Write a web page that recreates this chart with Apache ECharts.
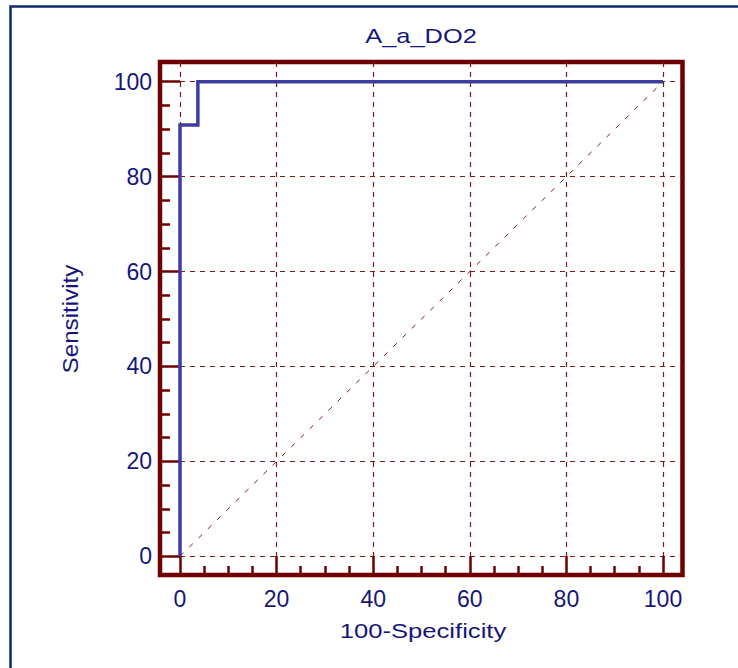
<!DOCTYPE html>
<html>
<head>
<meta charset="utf-8">
<script src="https://cdn.jsdelivr.net/npm/echarts@6/dist/echarts.min.js"></script>
<style>
html,body{margin:0;padding:0;background:#fff;}
#chart{width:738px;height:668px;}
</style>
</head>
<body>
<div id="chart"></div>
<script>
// ROC curve points (100-Specificity, Sensitivity)
const rocX = [0, 0, 3.7, 3.7, 100];
const rocY = [0, 90.9, 90.9, 100, 100];
// reference diagonal
const diagX = [0, 100];
const diagY = [0, 100];
// tick labels
const majorTicks = [0, 20, 40, 60, 80, 100];
const minorTicks = [5, 10, 15, 25, 30, 35, 45, 50, 55, 65, 70, 75, 85, 90, 95];
const titleText = 'A_a_DO2';
const xName = '100-Specificity';
const yName = 'Sensitivity';

const maroon = '#6e0000';
const gridColor = '#7a1a1a';
const navy = '#16167a';
const curve = '#3d3da0';
const font = 'Liberation Sans, Arial, sans-serif';

const chart = echarts.init(document.getElementById('chart'), null, {renderer: 'svg'});

function majorAxis(isX) {
  return {
    type: 'value',
    position: isX ? 'bottom' : 'left',
    min: isX ? -4.14 : -3.94,
    max: isX ? 104.04 : 104.15,
    axisLine: {show: false, onZero: false},
    axisTick: {show: true, inside: true, length: isX ? 19 : 20, customValues: majorTicks,
      lineStyle: {color: maroon, width: 2.5}},
    axisLabel: {show: true, customValues: majorTicks, margin: isX ? 12 : 8, fontSize: 23,
      color: navy, fontFamily: font},
    splitLine: {show: true, lineStyle: {color: gridColor, width: 1.2, type: [5, 5]}},
    minorTick: {show: false}
  };
}
function minorAxis(isX) {
  return {
    type: 'value',
    position: isX ? 'bottom' : 'left',
    min: isX ? -4.14 : -3.94,
    max: isX ? 104.04 : 104.15,
    axisLine: {show: false, onZero: false},
    axisTick: {show: true, inside: true, length: isX ? 9 : 10, customValues: minorTicks,
      lineStyle: {color: maroon, width: 2.5}},
    axisLabel: {show: false},
    splitLine: {show: false}
  };
}

chart.setOption({
  animation: false,
  backgroundColor: '#fff',
  grid: {left: 160, right: 55.5, top: 62, bottom: 93, show: true,
    borderColor: maroon, borderWidth: 4.5, backgroundColor: 'transparent', containLabel: false},
  xAxis: [majorAxis(true), minorAxis(true)],
  yAxis: [majorAxis(false), minorAxis(false)],
  graphic: [
    {type: 'rect', shape: {x: 10.5, y: 6.5, width: 1000, height: 1000}, silent: true,
      style: {fill: null, stroke: '#0d2a6e', lineWidth: 2.5}},
    {type: 'text', x: 421, y: 36, scaleX: 1.24,
      style: {text: titleText, x: 0, y: 0, textAlign: 'center', textVerticalAlign: 'middle',
        fontSize: 20.5, fontFamily: font, fill: navy}},
    {type: 'text', x: 423, y: 631, scaleX: 1.25,
      style: {text: xName, x: 0, y: 0, textAlign: 'center', textVerticalAlign: 'middle',
        fontSize: 20.5, fontFamily: font, fill: navy}},
    {type: 'text', x: 70, y: 319, rotation: Math.PI / 2, scaleX: 1.075,
      style: {text: yName, x: 0, y: 0, textAlign: 'center', textVerticalAlign: 'middle',
        fontSize: 22.5, fontFamily: font, fill: navy}}
  ],
  series: [
    {type: 'line', data: diagX.map((v, i) => [v, diagY[i]]), showSymbol: false, silent: true,
      lineStyle: {color: gridColor, width: 1, type: [5, 8]}, z: 2},
    {type: 'line', data: rocX.map((v, i) => [v, rocY[i]]), showSymbol: false, silent: true,
      lineStyle: {color: curve, width: 3.5, join: 'miter'}, z: 3}
  ]
});
</script>
</body>
</html>
